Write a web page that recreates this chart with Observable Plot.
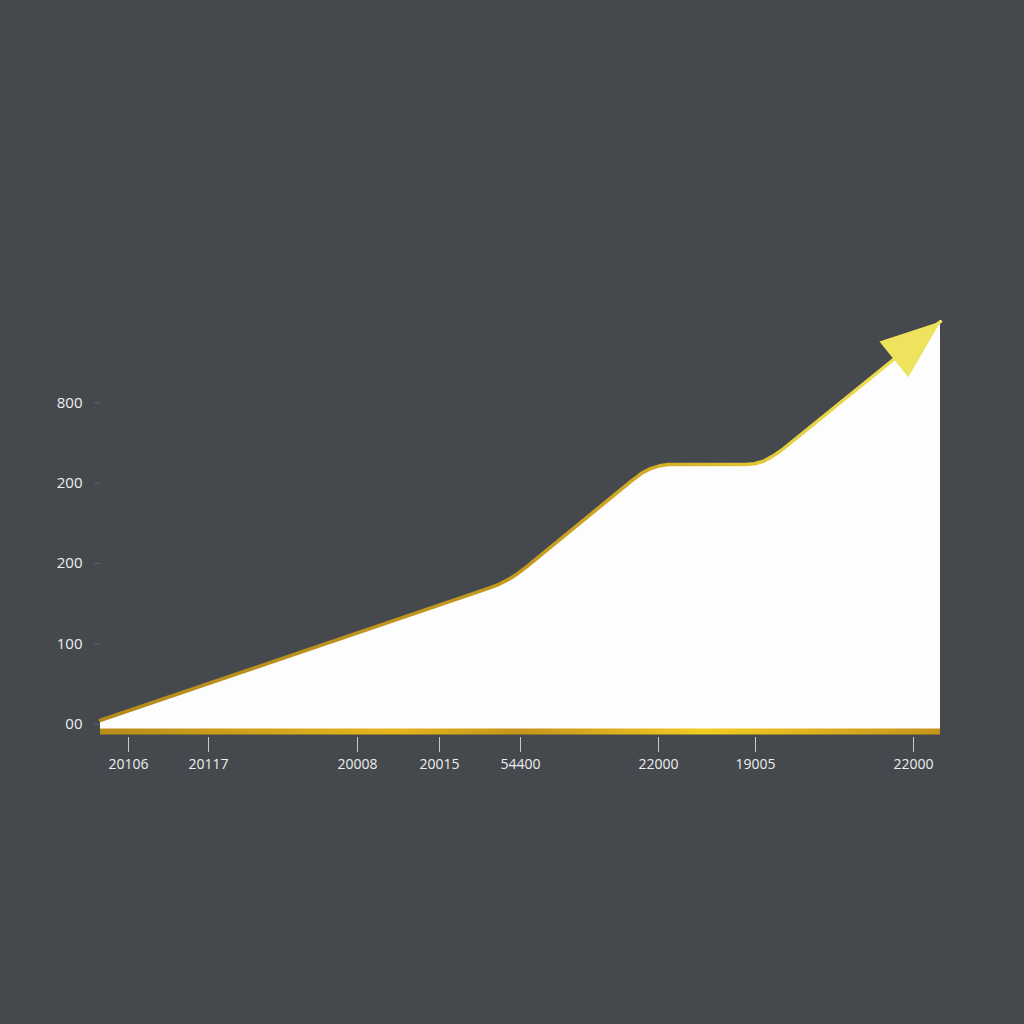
<!DOCTYPE html>
<html>
<head>
<meta charset="utf-8">
<script src="https://cdn.jsdelivr.net/npm/d3@7"></script>
<script src="https://cdn.jsdelivr.net/npm/@observablehq/plot@0.6"></script>
<style>
  html, body { margin: 0; padding: 0; background: #45484d; }
  #chart { width: 1024px; height: 1024px; }
</style>
</head>
<body>
<div id="chart"></div>
<script>
// Series (x in chart units, y in value units)
const seriesX = [0, 39, 39.9, 40.8, 41.7, 42.6, 53.2, 54.1, 55.0, 55.9, 56.8, 64.5, 65.4, 66.3, 67.1, 68.0, 84];
const seriesY = [5, 170, 174.4, 180.2, 187.3, 195.9, 303.7, 312.2, 318.0, 321.5, 323, 323, 324, 327.2, 332.6, 339.9, 501];
const floorValue = -9;

// Tick values and their printed labels
const xTickValues = [2.8, 10.8, 25.7, 33.9, 42.0, 55.8, 65.5, 81.3];
const xTickLabels = ["20106", "20117", "20008", "20015", "54400", "22000", "19005", "22000"];
const yTickValues = [0, 100, 200, 300, 400];
const yTickLabels = ["00", "100", "200", "200", "800"];

const data = seriesX.map((x, i) => ({x, y: seriesY[i]}));
const last = data[data.length - 1];
const xLabelMap = new Map(xTickValues.map((v, i) => [v, xTickLabels[i]]));
const yLabelMap = new Map(yTickValues.map((v, i) => [v, yTickLabels[i]]));

const triangle = {
  draw(context, l, r) {
    context.moveTo(0, -l);
    context.lineTo(-r, 0);
    context.lineTo(r, 0);
    context.closePath();
  }
};

const chart = Plot.plot({
  width: 1024,
  height: 1024,
  marginLeft: 100,
  marginRight: 84,
  marginTop: 321,
  marginBottom: 293,
  style: {background: "transparent", color: "#e8e8e8", fontFamily: "'Open Sans', sans-serif"},
  x: {domain: [0, 84]},
  y: {domain: [floorValue, 501]},
  marks: [
    Plot.areaY(data, {x: "x", y1: floorValue, y2: "y", fill: "#fdfdfd", curve: "linear"}),
    Plot.lineY(data, {x: "x", y: "y", stroke: "url(#goldLine)", strokeWidth: 3.5, curve: "linear", strokeLinejoin: "round"}),
    Plot.ruleY([floorValue], {x1: seriesX[0], x2: last.x, stroke: "url(#goldBar)", strokeWidth: 6}),
    Plot.vector([last], {x: "x", y: "y", anchor: "end", length: 60, r: 23, rotate: 51, shape: triangle, fill: "#ede35c", stroke: "none"}),
    Plot.axisX({ticks: xTickValues, tickFormat: d => xLabelMap.get(d), tickSize: 15, tickPadding: 7, dy: 6, fontSize: 14, stroke: "#d8d8d8", strokeOpacity: 0.9, fill: "#eeeeee", label: null}),
    Plot.axisY({ticks: yTickValues, tickFormat: d => yLabelMap.get(d), tickSize: 6, tickPadding: 12, fontSize: 15, stroke: "#5e6166", fill: "#eeeeee", label: null})
  ]
});

chart.insertAdjacentHTML("afterbegin", `
<defs>
  <linearGradient id="goldLine" x1="0" y1="0" x2="1" y2="0" gradientUnits="objectBoundingBox">
    <stop offset="0%" stop-color="#b48a1c"/>
    <stop offset="50%" stop-color="#c49a1e"/>
    <stop offset="66%" stop-color="#d2ac26"/>
    <stop offset="80%" stop-color="#e2cc3a"/>
    <stop offset="100%" stop-color="#f0e65a"/>
  </linearGradient>
  <linearGradient id="goldBar" x1="100" y1="0" x2="940" y2="0" gradientUnits="userSpaceOnUse">
    <stop offset="0%" stop-color="#b88c18"/>
    <stop offset="35%" stop-color="#e6b61c"/>
    <stop offset="50%" stop-color="#c4941a"/>
    <stop offset="72%" stop-color="#f2cc22"/>
    <stop offset="100%" stop-color="#c4941a"/>
  </linearGradient>
</defs>`);

document.getElementById("chart").appendChild(chart);
</script>
</body>
</html>
